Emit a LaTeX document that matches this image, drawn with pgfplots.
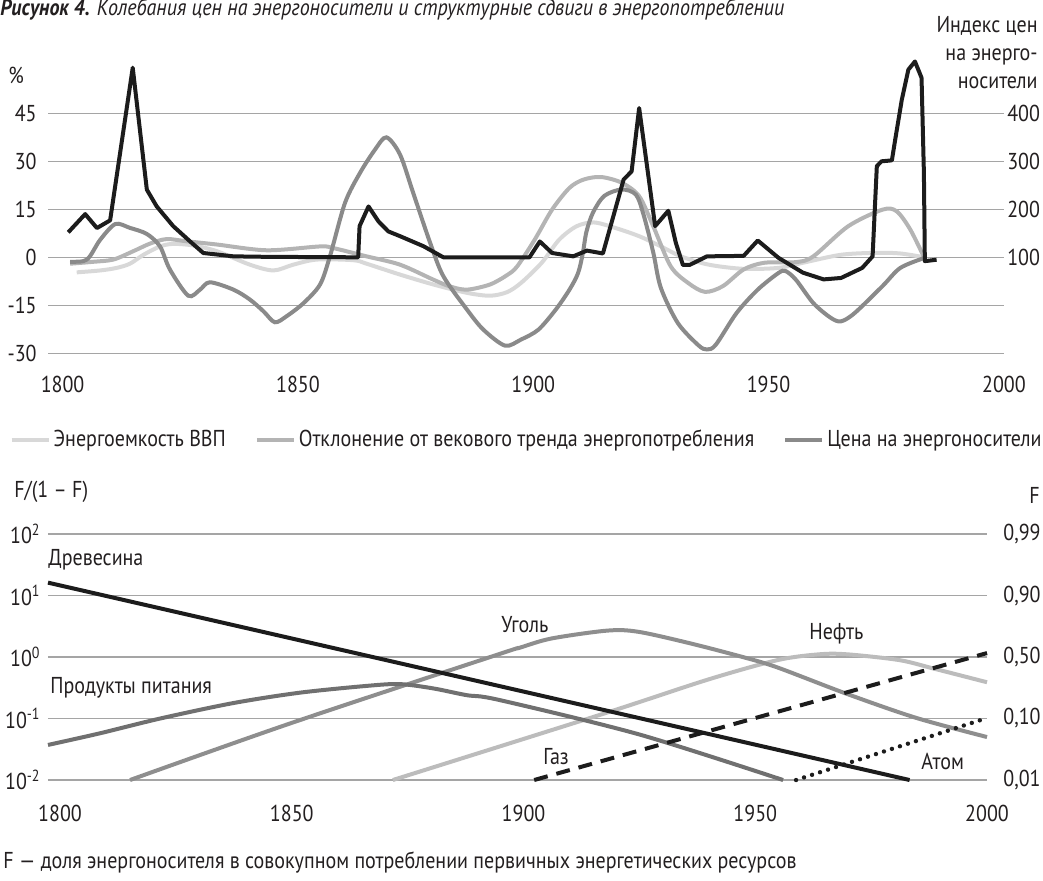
\documentclass[border=0pt]{standalone}
\usepackage{fontspec}
\setmainfont{PT Sans}[FakeStretch=0.87]
\usepackage{pgfplots}
\pgfplotsset{compat=1.18}
\definecolor{gA}{RGB}{216,216,216}
\definecolor{gB}{RGB}{180,180,180}
\definecolor{gC}{RGB}{138,138,138}
\definecolor{blk}{RGB}{28,28,28}
\definecolor{gridc}{RGB}{165,165,165}
\definecolor{food}{RGB}{112,112,112}
\definecolor{coal}{RGB}{142,142,142}
\definecolor{oil}{RGB}{188,188,188}
\definecolor{txt}{RGB}{35,31,32}
\pgfplotsset{
  myax/.style={scale only axis, axis line style={draw=none}, tick style={draw=none},
    major tick length=0pt, minor tick length=0pt, clip=false,
    grid style={draw=gridc, line width=0.6pt}},
}
\begin{document}
\fontsize{11.5}{14}\selectfont
\color{txt}
\begin{tikzpicture}
\useasboundingbox (0,0) rectangle (521.5pt,-440pt);
% ---------------- top panel, left axis
\begin{axis}[myax, at={(24pt,-176.65pt)}, anchor=south west,
  width=477.95pt, height=148.8pt,
  xmin=1796.9, xmax=2000, ymin=-30, ymax=63,
  xtick={1800,1850,1900,1950,2000}, xticklabels={1800,1850,1900,1950,2000},
  ytick={-30,-15,0,15,30,45}, yticklabels={-30,-15,0,15,30,45},
  ymajorgrids,
  xticklabel style={anchor=north, inner sep=0pt, yshift=-11pt},
  yticklabel style={anchor=east, inner sep=0pt, xshift=-5.5pt},
  legend style={at={(-0.0405,-0.291)}, anchor=west, draw=none, fill=none,
    inner sep=0pt, legend columns=3, nodes={inner sep=0pt},
    /tikz/every odd column/.append style={column sep=1.5pt},
    /tikz/every even column/.append style={column sep=14.5pt}},
  legend image code/.code={\draw[#1, line width=2pt] (0pt,0pt) -- (18.5pt,0pt);},
]
\addplot[gA, line width=2pt, smooth, tension=0.5] coordinates {
(1803,-4.7) (1808,-4.1) (1811.5,-3.3) (1814.3,-2) (1817.2,0.8) (1820.7,3.4) (1823.5,4.2) (1827.8,3.7) (1832.8,1.9) (1839.8,-2.3) (1844.8,-4.1) (1849,-2.3) (1854,-0.7) (1861.8,-0.9) (1864.6,-2) (1871.7,-5.4) (1878.8,-8.5) (1885.9,-11.1) (1890.8,-12) (1894.4,-10.9) (1897.4,-8) (1901.8,-1.7) (1905.5,5.5) (1909.2,9.7) (1912.9,10.9) (1917.4,9.2) (1922.5,6.6) (1927,3.5) (1931.4,0.3) (1937.3,-2.3) (1944.7,-3.6) (1952.1,-3.3) (1957.3,-1.7) (1965.4,0.8) (1972.8,1.4) (1978,1.2) (1983.1,0)
};
\addlegendentry{Энергоемкость ВВП}
\addplot[gB, line width=2pt, smooth, tension=0.5] coordinates {
(1801.6,-2) (1806.5,-1.4) (1810.8,-0.7) (1815,1.9) (1818.6,4.3) (1822.1,5.7) (1826.4,5) (1832.8,4) (1843.4,2.2) (1854.7,3.4) (1857.5,2.9) (1864.6,0.3) (1871.7,-2.3) (1878.8,-7) (1882.3,-9.1) (1885.9,-10.1) (1890.8,-8.5) (1894.5,-5.5) (1896.6,-2.8) (1900.3,5.5) (1904,14.9) (1907.7,21.7) (1910.7,24.3) (1914.4,25.1) (1918.8,23.3) (1922.5,19.1) (1925.5,9.7) (1929.2,-2.8) (1932.9,-8) (1936.5,-10.8) (1940.3,-9) (1944.7,-3.8) (1949.1,-1.7) (1955.8,-1.5) (1959.5,0.3) (1966.9,9.7) (1974.2,14.9) (1977.2,14.4) (1980.1,8.7) (1983.1,-0.2)
};
\addlegendentry{Отклонение от векового тренда энергопотребления}
\addplot[gC, line width=2pt, smooth, tension=0.5] coordinates {
(1801.6,-1.4) (1804.4,-1.2) (1805.8,0.3) (1808,5.5) (1811.2,10.4) (1814.3,9.2) (1817.9,7.3) (1820.7,3.4) (1822.8,-3.8) (1826.7,-12) (1829.2,-10.1) (1831.3,-7.8) (1836.3,-10.1) (1839.8,-13.2) (1842.7,-16.9) (1845.1,-20.3) (1847.6,-18.4) (1851.2,-14.3) (1854.7,-8.5) (1856.8,0.3) (1860,17) (1863.2,26.4) (1866.4,33.7) (1868.8,37.5) (1871.7,32.1) (1874.5,20.1) (1878.1,4.5) (1880.9,-5.9) (1885.9,-16.3) (1889.4,-22.6) (1894.0,-27.6) (1897.4,-25.7) (1901.1,-22.6) (1904.8,-16.3) (1907.7,-10.1) (1909.5,-5) (1910.5,1) (1911.3,8) (1912.7,14) (1915.1,19.2) (1918.8,21.2) (1921.8,19.6) (1923.4,13.5) (1925.5,1.5) (1927.1,-9.5) (1930.7,-20.5) (1935.1,-27.5) (1936.9,-28.8) (1938.8,-27.3) (1943.2,-17.4) (1947.7,-10.1) (1952.1,-4.9) (1953.6,-4.3) (1955.8,-7) (1959.5,-14.3) (1963.2,-18.9) (1965.4,-20) (1968.3,-17.4) (1974.2,-9) (1978,-3.3) (1983.1,-0.2)
};
\addlegendentry{Цена на энергоносители}
\end{axis}
% ---------------- top panel, right axis (price index)
\begin{axis}[myax, at={(24pt,-176.65pt)}, anchor=south west,
  width=477.95pt, height=148.8pt,
  xmin=1796.9, xmax=2000, ymin=-100, ymax=520,
  xtick=\empty, ytick={100,200,300,400}, yticklabels={100,200,300,400},
  yticklabel pos=right,
  yticklabel style={anchor=west, inner sep=0pt, xshift=1.5pt},
]
\addplot[blk, line width=2pt, line join=round] coordinates {
(1801.2,152) (1804.8,190) (1807.3,161) (1810.1,177) (1814.9,495) (1817.9,241) (1820.0,206) (1823.5,165) (1827.1,133) (1829.9,109) (1836.3,102) (1843.4,101) (1862.8,100) (1863.1,165) (1865.0,206) (1867.1,175) (1869.2,154) (1871.7,144) (1876.7,123) (1880.9,100) (1899.2,100) (1901.4,133) (1904.0,109) (1908.5,102) (1911.4,114) (1914.8,108) (1919.2,262) (1920.9,279) (1922.5,411) (1925.9,165) (1928.7,197) (1930.3,130) (1931.8,84) (1933.2,84) (1936.9,102) (1944.7,103) (1947.7,135) (1952.1,99) (1957.3,68) (1961.7,54) (1965.4,57) (1969.9,78) (1972.1,102) (1973.0,290) (1974.0,300) (1976.2,302) (1976.9,345) (1978.3,428) (1979.7,491) (1981.1,508) (1982.5,474) (1983.0,276) (1983.2,92) (1985.7,95)
};
\end{axis}
% ---------------- bottom panel, left axis
\begin{axis}[myax, at={(24pt,-390pt)}, anchor=south west,
  width=469.5pt, height=123pt, ymode=log,
  xmin=1797.4, xmax=2000, ymin=0.01, ymax=100,
  xtick={1800,1850,1900,1950,2000}, xticklabels={1800,1850,1900,1950,2000},
  ytick={0.01,0.1,1,10,100},
  yticklabels={10\textsuperscript{-2},10\textsuperscript{-1},10\textsuperscript{0},10\textsuperscript{1},10\textsuperscript{2}},
  minor ytick={}, ymajorgrids,
  xticklabel style={anchor=north, inner sep=0pt, yshift=-12.5pt},
  yticklabel style={anchor=east, inner sep=0pt, xshift=-3.5pt},
]
\addplot[oil, line width=2pt, smooth, tension=0.5] coordinates {
(1871.8,0.01) (1917.3,0.12) (1939.8,0.43) (1954.8,0.891) (1963.8,1.107) (1969.8,1.107) (1981.1,0.891) (1988.6,0.646) (2000,0.389)
};
\addplot[coal, line width=2pt, smooth, tension=0.5] coordinates {
(1815.1,0.01) (1850,0.085) (1894.8,1.12) (1899.1,1.41) (1906,2.0) (1918.1,2.69) (1924.8,2.57) (1936.1,1.66) (1947.3,1.0) (1954.8,0.676) (1969.8,0.251) (1984.8,0.102) (2000,0.05)
};
\addplot[food, line width=2pt, smooth, tension=0.5] coordinates {
(1797.4,0.0372) (1808.6,0.0575) (1821.6,0.1) (1837.3,0.178) (1851.7,0.263) (1866.1,0.339) (1873.3,0.363) (1880.5,0.309) (1887.7,0.24) (1894.8,0.2) (1925,0.055) (1956.0,0.01)
};
\addplot[blk, line width=2pt] coordinates {(1797.4,16.2) (1983.3,0.01)};
\end{axis}
% ---------------- bottom panel, right axis
\begin{axis}[myax, at={(24pt,-390pt)}, anchor=south west,
  width=469.5pt, height=123pt, ymode=log,
  xmin=1797.4, xmax=2000, ymin=0.01, ymax=100,
  xtick=\empty, ytick={0.01,0.1,1,10,100}, minor ytick={},
  yticklabels={{0,01},{0,10},{0,50},{0,90},{0,99}},
  yticklabel pos=right,
  yticklabel style={anchor=west, inner sep=0pt, xshift=8pt},
]
\addplot[blk, line width=2pt, dash pattern=on 7pt off 4.5pt] coordinates {(1902.3,0.01) (2000,1.16)};
\addplot[blk, line width=2.2pt, line cap=round, dash pattern=on 0pt off 4.2pt] coordinates {(1958.8,0.01) (2000,0.102)};
\end{axis}
% ---------------- texts
\begin{scope}[x=0.5pt, y=-0.5pt, every node/.style={inner sep=0pt}]
\node[anchor=west] at (0,10) {{\bfseries\itshape Рисунок 4.} {\itshape Колебания цен на энергоносители и структурные сдвиги в энергопотреблении}};
\node[anchor=west] at (8,75) {\%};
\node[anchor=north east, align=right] at (1038,16) {Индекс цен\\на энерго-\\носители};
\node[anchor=west] at (14,492) {F/(1 – F)};
\node[anchor=east] at (1040,495) {F};
\node[anchor=west] at (48,560) {Древесина};
\node[anchor=west] at (50,688) {Продукты питания};
\node[anchor=west] at (501,625) {Уголь};
\node[anchor=west] at (809,634) {Нефть};
\node[anchor=west] at (543,757) {Газ};
\node[anchor=west] at (921,761) {Атом};
\node[anchor=west] at (3,862) {F — доля энергоносителя в совокупном потреблении первичных энергетических ресурсов};
\end{scope}
\end{tikzpicture}
\end{document}
